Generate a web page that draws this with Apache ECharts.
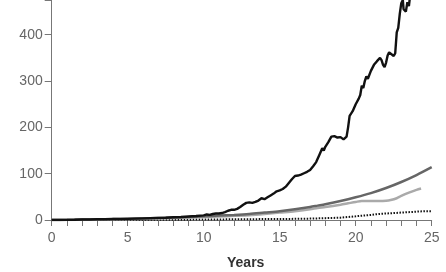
<!DOCTYPE html>
<html><head><meta charset="utf-8">
<script src="https://cdn.jsdelivr.net/npm/echarts@6/dist/echarts.min.js"></script>
<style>html,body{margin:0;padding:0;background:#fff}#c{width:446px;height:272px}</style>
</head><body><div id="c"></div>
<script>
var blackT = [0,0.5,1,1.5,2,2.5,3,3.5,4,4.5,5,5.5,6,6.5,7,7.5,8,8.5,9,9.5,10,10.2,10.4,10.6,10.8,11,11.2,11.4,11.6,11.8,12,12.2,12.4,12.6,12.8,13,13.2,13.4,13.6,13.8,14,14.2,14.4,14.6,14.8,15,15.2,15.4,15.6,15.8,16,16.2,16.4,16.6,16.8,17,17.2,17.4,17.6,17.8,17.9,18,18.2,18.4,18.5,18.6,18.8,19,19.2,19.4,19.5,19.6,19.7,19.8,20,20.2,20.3,20.4,20.5,20.6,20.7,20.8,21,21.2,21.4,21.6,21.7,21.8,21.9,22,22.1,22.2,22.3,22.5,22.6,22.7,22.8,22.9,23,23.1,23.15,23.3,23.4,23.5,23.6];
var blackV = [0,0,0.3,0.5,1,1.2,1.5,1.5,2,2.3,2.5,3,3.5,4,4.5,5,6,6.5,7.5,8.5,10,12,11,13,14,14,15,17,20,22,22,24,28,33,37,38,37,39,42,47,45,49,53,57,62,64,67,72,80,88,95,96,98,101,104,108,116,125,140,155,150,158,168,180,176,181,178,179,174,180,200,225,222,235,250,262,270,290,285,300,310,305,322,335,343,350,345,335,330,340,355,362,358,354,360,405,415,445,468,475,455,450,470,462,490];
var darkT = [0,1,2,3,4,5,6,7,8,9,10,11,12,13,14,15,16,17,17.5,18,19,20,21,22,23,24,25];
var darkV = [0,0.3,1,1.5,2,2.8,3.5,4.5,5.5,6.5,8,9.5,11,13,16,19,23,28,31,34,41,49,58,69,82,97,114];
var lightT = [0,1,2,3,4,5,6,7,8,9,10,11,12,13,14,15,16,17,17.5,18,19,19.5,20,20.4,20.8,21.5,22,22.3,22.7,23,23.5,24,24.3];
var lightV = [0,0,0.5,1,1.5,2,2.5,3.5,4.5,5.5,6.5,7.5,9,10.5,13,16,19,23,26,28,33,36,39,41,41,41,41.5,43,47,52,59,65,68];
var dotT = [0,2,4,6,8,10,12,14,15,16,17,18,19,19.3,20,21,21.5,22,23,24,24.5,25];
var dotV = [0,0,0,0.3,0.5,1,1.5,2,2,2.5,3,4,5,6,8,11,13,14,16,18,19,19];
var xTickLabels = [0,5,10,15,20,25];
var yTickLabels = [0,100,200,300,400];

function pairs(t, v){ return t.map(function(x,i){ return [x, v[i]]; }); }
var font = "'Liberation Sans Narrow','Liberation Sans',Arial,sans-serif";
var chart = echarts.init(document.getElementById('c'));
chart.setOption({
  animation:false,
  grid:{left:51.7, right:14.3, top:0, bottom:52, containLabel:false, outerBoundsMode:'none'},
  xAxis:{type:'value', min:0, max:25, interval:1,
    axisLine:{lineStyle:{color:'#777', width:1}},
    axisTick:{show:true, length:6, lineStyle:{color:'#777'}},
    splitLine:{show:false},
    axisLabel:{margin:11, color:'#666', fontSize:14, fontFamily:font,
      formatter:function(v){ return xTickLabels.indexOf(v)>=0 ? String(v) : ''; }},
    name:'Years', nameLocation:'middle', nameGap:36,
    nameTextStyle:{fontFamily:font, fontWeight:'bold', fontSize:14, color:'#333', padding:[0,0,0,8]}
  },
  yAxis:{type:'value', min:0, max:475, interval:100,
    axisLine:{show:true, lineStyle:{color:'#777', width:1}},
    axisTick:{show:true, length:7, lineStyle:{color:'#777'}},
    splitLine:{show:false},
    axisLabel:{margin:9, color:'#666', fontSize:14, fontFamily:font,
      formatter:function(v){ return yTickLabels.indexOf(v)>=0 ? String(v) : ''; }}
  },
  series:[
    {type:'line', data:pairs(dotT,dotV), showSymbol:false, lineStyle:{color:'#111', width:2, type:[1.5,1.5]}},
    {type:'line', data:pairs(lightT,lightV), showSymbol:false, smooth:0.3, lineStyle:{color:'#aaa', width:2.5}},
    {type:'line', data:pairs(darkT,darkV), showSymbol:false, smooth:0.3, lineStyle:{color:'#666', width:2.5}},
    {type:'line', data:pairs(blackT,blackV), showSymbol:false, lineStyle:{color:'#111', width:2.4}}
  ]
});
</script></body></html>
